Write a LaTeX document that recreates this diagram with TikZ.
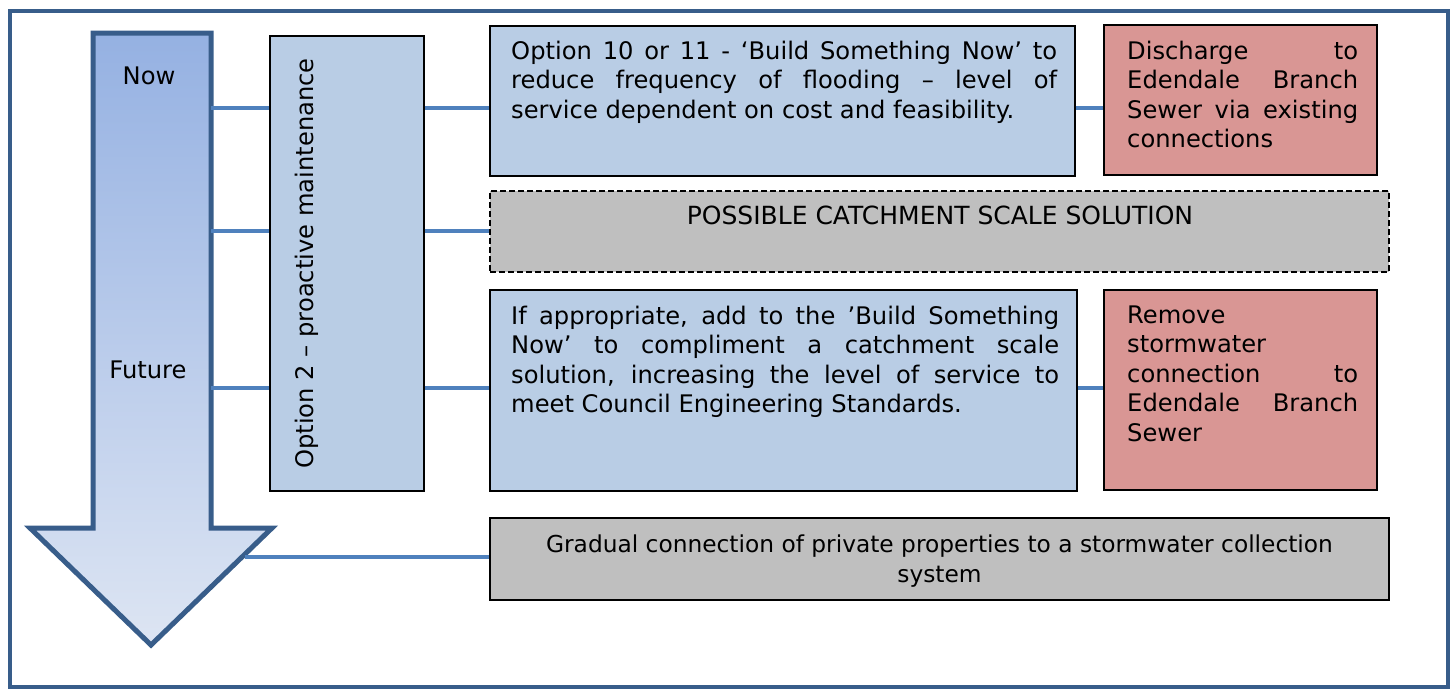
\documentclass[tikz,border=0pt]{standalone}
\usepackage{fontspec}
\setmainfont{DejaVu Sans}
\definecolor{frameblue}{HTML}{385D8A}
\definecolor{linkblue}{HTML}{4F81BD}
\definecolor{optblue}{HTML}{B9CDE5}
\definecolor{optred}{HTML}{D99694}
\definecolor{optgrey}{HTML}{BFBFBF}
\definecolor{arrowtop}{HTML}{95B1E2}
\definecolor{arrowbot}{HTML}{DDE5F3}
\tolerance=9999
\begin{document}
\begin{tikzpicture}[x=1pt, y=-1pt,
      font=\fontsize{24.2}{29.5}\selectfont,
      box/.style={draw=black, line width=1.3pt, inner sep=0pt},
      bluebox/.style={box, fill=optblue},
      redbox/.style={box, fill=optred},
      greybox/.style={box, fill=optgrey},
      txt/.style={text width=#1, align=justify, inner sep=0pt, anchor=north west},
      link/.style={draw=linkblue, line width=3.2pt},
    ]
      \useasboundingbox (0,0) rectangle (1455,689);
      \draw[frameblue, line width=4pt] (10,11) rectangle (1448,687);
      % time arrow
      \draw[frameblue, line width=5pt, line join=miter, top color=arrowtop, bottom color=arrowbot]
        (93,33) -- (211,33) -- (211,528) -- (272,528) -- (151,645) -- (30,528) -- (93,528) -- cycle;
      \node (now) at (149,76) {Now};
      \node (future) at (148,370) {Future};
      \coordinate (s1) at (211,108);
      \coordinate (s2) at (211,231);
      \coordinate (s3) at (211,388);
      \coordinate (s4) at (245,557);
      % boxes
      \node[bluebox, minimum width=154, minimum height=455] (2) at (347,263.5) {};
      \node[rotate=90, anchor=north, inner sep=0pt] at (295,263.5) {Option 2 – proactive maintenance};
      \node[bluebox, minimum width=585, minimum height=150] (3) at (782.5,101) {};
      \node[txt=546] at (511,40.5) {Option 10 or 11 - ‘Build Something Now’ to\linebreak reduce frequency of flooding – level of\linebreak service dependent on cost and feasibility.};
      \node[redbox, minimum width=273, minimum height=150] (4) at (1240.5,100) {};
      \node[txt=231] at (1127,40.5) {Discharge to\linebreak Edendale Branch\linebreak Sewer via existing\linebreak connections};
      \node[greybox, dash pattern=on 6pt off 3pt, minimum width=899, minimum height=81] (5) at (939.5,231.5) {};
      \node[anchor=base, font=\fontsize{25}{29.5}\selectfont] at (940,224) {POSSIBLE CATCHMENT SCALE SOLUTION};
      \node[bluebox, minimum width=587, minimum height=201] (6) at (783.5,390.5) {};
      \node[txt=548] at (511,305.5) {If appropriate, add to the ’Build Something\linebreak Now’ to compliment a catchment scale\linebreak solution, increasing the level of service to\linebreak meet Council Engineering Standards.};
      \node[redbox, minimum width=273, minimum height=200] (7) at (1240.5,390) {};
      \node[txt=231] at (1127,305.5) {Remove\\ stormwater\\ connection to\linebreak Edendale Branch\linebreak Sewer};
      \node[greybox, minimum width=899, minimum height=82] (8) at (939.5,559) {};
      \node[align=center, font=\fontsize{23.3}{29.5}\selectfont] at (939.5,561) {Gradual connection of private properties to a stormwater collection\\ system};
      % connectors
      \draw[link] (s1) -- (s1 -| 2.west);
      \draw[link] (s1 -| 2.east) -- (s1 -| 3.west);
      \draw[link] (s1 -| 3.east) -- (s1 -| 4.west);
      \draw[link] (s2) -- (s2 -| 2.west);
      \draw[link] (s2 -| 2.east) -- (s2 -| 5.west);
      \draw[link] (s3) -- (s3 -| 2.west);
      \draw[link] (s3 -| 2.east) -- (s3 -| 6.west);
      \draw[link] (s3 -| 6.east) -- (s3 -| 7.west);
      \draw[link] (s4) -- (s4 -| 8.west);
    \end{tikzpicture}
\end{document}
